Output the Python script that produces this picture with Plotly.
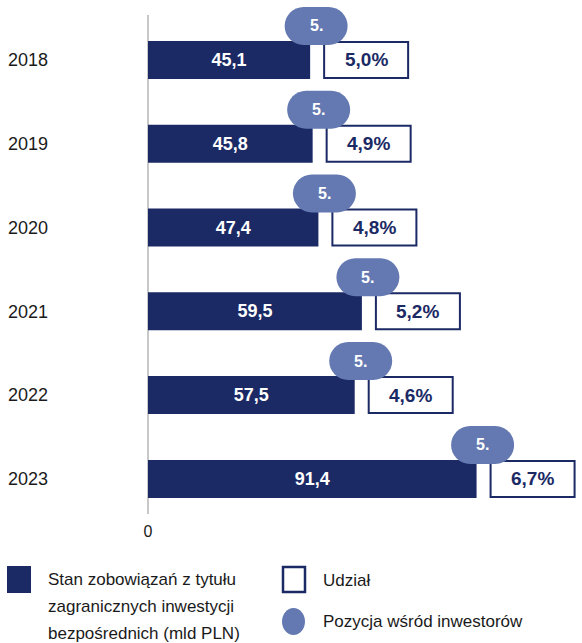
import plotly.graph_objects as go

years = ["2018", "2019", "2020", "2021", "2022", "2023"]
stock = [45.1, 45.8, 47.4, 59.5, 57.5, 91.4]
share = [5.0, 4.9, 4.8, 5.2, 4.6, 6.7]
rank = [5, 5, 5, 5, 5, 5]

legend_bar = ["Stan zobowiązań z tytułu", "zagranicznych inwestycji", "bezpośrednich (mld PLN)"]
legend_share = "Udział"
legend_rank = "Pozycja wśród inwestorów"

NAVY = "#1b2a65"
PILL = "#6479b1"
TEXT = "#1a1a1a"
FONT = "Liberation Sans"

# plot area in pixels (top at 0 so the first pill is not clipped)
W, H = 582, 643
L, T, B = 148, 0, 514
PW, PH = W - L, B - T


def px(x):
    return (x - L) / PW


def py(y):
    return (B - y) / PH


def stadium(cx, cy, w, h):
    r = h / 2
    k = 0.5523 * r
    x0, x1 = cx - w / 2, cx + w / 2
    yb, yt = cy - r, cy + r
    return (f"M{x0+r},{yb} L{x1-r},{yb} "
            f"C{x1-r+k},{yb} {x1},{cy-k} {x1},{cy} "
            f"C{x1},{cy+k} {x1-r+k},{yt} {x1-r},{yt} "
            f"L{x0+r},{yt} "
            f"C{x0+r-k},{yt} {x0},{cy+k} {x0},{cy} "
            f"C{x0},{cy-k} {x0+r-k},{yb} {x0+r},{yb} Z")


pos = list(range(len(years)))

fig = go.Figure()
fig.add_trace(go.Bar(
    x=stock, y=pos, orientation="h",
    marker=dict(color=NAVY, line_width=0),
    width=0.453,
    texttemplate="%{x:.1f}", textposition="inside", insidetextanchor="middle",
    textfont=dict(family=FONT, size=18, color="white", weight="bold"),
    hoverinfo="skip", showlegend=False,
))

# vertical axis line (from y=15 px down to the plot bottom)
shapes = [dict(type="line", xref="paper", yref="paper", x0=0, x1=0,
               y0=0, y1=py(15), line=dict(color="#c8c8c8", width=2), layer="below")]
annotations = []
for i, (v, s, r) in enumerate(zip(stock, share, rank)):
    # share box
    shapes.append(dict(type="rect", xref="x", yref="y",
                       xsizemode="pixel", xanchor=v, x0=14, x1=98,
                       ysizemode="pixel", yanchor=i, y0=-18, y1=18,
                       fillcolor="white", line=dict(color=NAVY, width=2)))
    annotations.append(dict(x=v, y=i, xref="x", yref="y", xshift=56,
                            text=f"{s:.1f}%".replace(".", ","), showarrow=False,
                            font=dict(family=FONT, size=19, color=NAVY, weight="bold")))
    # rank pill
    shapes.append(dict(type="path", xref="x", yref="y",
                       xsizemode="pixel", xanchor=v,
                       ysizemode="pixel", yanchor=i,
                       path=stadium(6, 34, 63, 38),
                       fillcolor=PILL, line=dict(width=0)))
    annotations.append(dict(x=v, y=i, xref="x", yref="y", xshift=6, yshift=34,
                            text=f"{r}.", showarrow=False,
                            font=dict(family=FONT, size=16, color="white", weight="bold")))

# legend
shapes.append(dict(type="rect", xref="paper", yref="paper",
                   x0=px(7), x1=px(31), y0=py(593), y1=py(566),
                   fillcolor=NAVY, line=dict(width=0)))
for i, line in enumerate(legend_bar):
    annotations.append(dict(x=px(46), y=py(579 + 27 * i), xref="paper", yref="paper",
                            xanchor="left", yanchor="middle", text=line, showarrow=False,
                            font=dict(family=FONT, size=17, color=TEXT)))
shapes.append(dict(type="rect", xref="paper", yref="paper",
                   x0=px(283), x1=px(305), y0=py(592), y1=py(567),
                   fillcolor="white", line=dict(color=NAVY, width=2.5)))
annotations.append(dict(x=px(321), y=py(580), xref="paper", yref="paper",
                        xanchor="left", yanchor="middle", text=legend_share, showarrow=False,
                        font=dict(family=FONT, size=17, color=TEXT)))
shapes.append(dict(type="circle", xref="paper", yref="paper",
                   x0=px(282), x1=px(305), y0=py(635), y1=py(608),
                   fillcolor=PILL, line=dict(width=0)))
annotations.append(dict(x=px(321), y=py(621), xref="paper", yref="paper",
                        xanchor="left", yanchor="middle", text=legend_rank, showarrow=False,
                        font=dict(family=FONT, size=17, color=TEXT)))

scale = 3.595
row = 83.8
c0 = 59.9
fig.update_layout(
    width=W, height=H,
    margin=dict(l=L, r=0, t=T, b=H - B, pad=0),
    plot_bgcolor="white", paper_bgcolor="white",
    separators=", ",
    xaxis=dict(range=[0, PW / scale], tickvals=[0], ticktext=["0"],
               showgrid=False, zeroline=False, showline=False,
               ticks="", ticklabelstandoff=6,
               tickfont=dict(family=FONT, size=16, color=TEXT)),
    yaxis=dict(tickvals=pos, ticktext=years,
               range=[(B - c0) / row, -(c0 - T) / row],
               showgrid=False, zeroline=False, showline=False, ticks="",
               ticklabelstandoff=99,
               tickfont=dict(family=FONT, size=18, color=TEXT)),
    shapes=shapes, annotations=annotations,
)

# page has a default 8px body margin; drop it so the figure sits at 0,0
fig.write_html("out.html", config={"displayModeBar": False},
               post_script="document.body.style.margin='0';")
